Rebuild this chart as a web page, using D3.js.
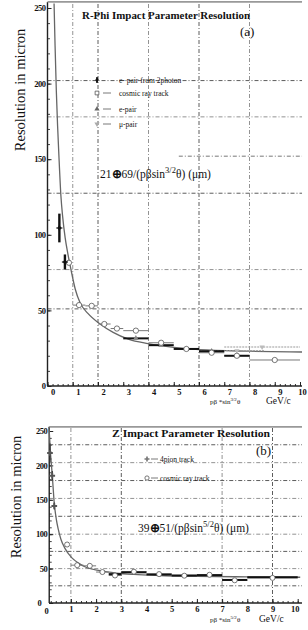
<!DOCTYPE html>
<html><head><meta charset="utf-8">
<script src="https://cdn.jsdelivr.net/npm/d3@7"></script>
<style>body{margin:0;background:#fff} svg{display:block} text{font-family:"Liberation Serif","Times New Roman",serif;fill:#111}</style>
</head><body><svg id="c" width="308" height="630"></svg>
<script>
// ---------- Panel (a): R-Phi ----------
const xTicks = [0,1,2,3,4,5,6,7,8,9,10];
const yTicks = [0,50,100,150,200,250];
const curveAx = [0.26,0.3,0.35,0.4,0.45,0.53,0.6,0.7,0.8,0.93,1.1,1.29,1.6,2.08,2.6,3.2,3.98,5,6,8,10.08];
const curveAy = [253,225,195,172,153,126,112,98,88,77,64,55,48,41,35.5,31,28,25.5,24,23,22.5];
const photonX = [0.47,0.69], photonY = [104.5,82], photonLo = [95,77], photonHi = [114,87];
const cosmicAx = [0.85,1.25,1.75,2.25,2.75,3.5,4.5,5.5,6.5,7.5,9.0];
const cosmicAy = [81.5,53.5,53,41,38,36.6,28.6,24.5,22,20,17.2];
const cosmicAlo = [0.85,1,1.5,2,2.5,3,4,5,6,7,8];
const cosmicAhi = [0.85,1.5,2,2.5,3,4,5,6,7,8,10];
const epairX = [3.5,4.5,5.5,6.5,7.5], epairY = [31.5,27,24.5,23,20];
const epairLo = [3,4,5,6,7], epairHi = [4,5,6,7,8];
const mupairX = [7.5,8.5], mupairY = [23.3,25.8], mupairLo = [6,7], mupairHi = [8.6,10];
const legendA = ["e- pair from 2photon","cosmic ray track","e-pair","\u03bc-pair"];
const gridAx = [1,2,4,6,8], gridAy = [51,77,127.5,178,202];

// ---------- Panel (b): Z ----------
const yGridB = [25,50,75,100,126,152,178,204,230];
const gridBx = [1,3,7,9];
const curveBx = [0.13,0.19,0.26,0.34,0.42,0.5,0.6,0.77,1.03,1.3,1.6,2.15,2.8,3.5,4.5,6,8,10.1];
const curveBy = [256,218,186,145,122,107,93,79,66,58,52,47,43.5,41.5,40,38.8,38,37.4];
const pionX = [0.17,0.26,0.34], pionY = [218,185,141], pionLo = [205,178,136], pionHi = [232,192,146];
const pionBinX = [2.75,3.5,4.5,5.5,6.5,7.5,9], pionBinY = [42,44.6,41.5,40,40.5,33.5,37.5];
const pionBinLo = [2.5,3,4,5,6,7,8], pionBinHi = [3,4,5,6,7,8,10];
const cosmicBx = [0.85,1.25,1.75,2.25,2.75,3.5,4.5,5.5,6.5,7.5,9];
const cosmicBy = [85,55,54,45,40,45.5,42,39.7,41,33,36.5];
const cosmicBlo = [0.85,1,1.5,2,2.5,3,4,5,6,7,8];
const cosmicBhi = [0.85,1.5,2,2.5,3,4,5,6,7,8,10];
const legendB = ["4pion track","cosmic ray track"];

const svg = d3.select('#c');

const xA = d3.scaleLinear().domain([0,10]).range([47.5,300]);
const yA = d3.scaleLinear().domain([0,250]).range([386,8]);
const xB = d3.scaleLinear().domain([0,10]).range([45.7,297.7]);
const yB = d3.scaleLinear().domain([0,250]).range([603,431]);

function grids(g, x, y, xs, ys, x0, x1, y0, y1){
  g.selectAll(null).data(ys).enter().append('line')
    .attr('x1', x(x0)).attr('x2', x(x1)).attr('y1', d=>y(d)).attr('y2', d=>y(d))
    .attr('stroke', (d,i)=> i%2 ? '#777' : '#333').attr('stroke-width',0.8)
    .attr('stroke-dasharray','4,2,1,2');
  g.selectAll(null).data(xs).enter().append('line')
    .attr('y1', y(y0)).attr('y2', y(y1)).attr('x1', d=>x(d)).attr('x2', d=>x(d))
    .attr('stroke', (d,i)=> i%2 ? '#333' : '#777').attr('stroke-width',0.8)
    .attr('stroke-dasharray','4,2,1,2');
}

function axes(g, x, y, xmin, xmax, ymax, labelDx, zeroDx){
  const xMinor = d3.range(0, 10.01, 0.2).filter(v=>v>=xmin);
  const yMinor = d3.range(0, 251, 10);
  g.append('g').attr('transform',`translate(0,${y(0)})`)
    .call(d3.axisBottom(x).tickValues(xMinor).tickSize(-2).tickFormat(''))
    .call(s=>{s.select('.domain').remove(); s.selectAll('line').attr('stroke','#333');});
  g.append('g').attr('transform',`translate(0,${y(0)})`)
    .call(d3.axisBottom(x).tickValues(xTicks.filter(v=>v>=xmin)).tickSize(-4).tickPadding(3).tickFormat(d3.format('d')))
    .call(s=>{s.select('.domain').remove(); s.selectAll('line').attr('stroke','#222');
      s.selectAll('text').attr('dx',d=> d===10 ? labelDx-3 : labelDx).style('font-family','"Liberation Serif",serif')
       .style('font-size','8.5px').style('font-weight','bold').attr('fill','#111');});
  g.append('g').attr('transform',`translate(0,${y(0)})`)
    .call(d3.axisLeft(y).tickValues(yMinor).tickSize(0).tickFormat(''))
    .call(s=>{s.select('.domain').remove();});
  g.append('g').attr('transform',`translate(${x(xmin)},0)`)
    .call(d3.axisLeft(y).tickValues(yMinor).tickSize(-2.5).tickFormat(''))
    .call(s=>{s.select('.domain').remove(); s.selectAll('line').attr('stroke','#444');});
  g.append('g').attr('transform',`translate(${x(xmin)},0)`)
    .call(d3.axisLeft(y).tickValues(yTicks).tickSize(-4).tickPadding(2))
    .call(s=>{s.select('.domain').remove(); s.selectAll('line').attr('stroke','#222');
      s.selectAll('text').attr('dx',d=> d===0 ? zeroDx : 0).style('font-family','"Liberation Serif",serif')
       .style('font-size','8.5px').style('font-weight','bold').attr('fill','#111').attr('letter-spacing','-0.5');});
  g.append('line').attr('x1',x(xmin)).attr('x2',x(xmax)).attr('y1',y(0)).attr('y2',y(0))
    .attr('stroke','#222').attr('stroke-width',1.4);
  g.append('line').attr('x1',x(xmin)).attr('x2',x(xmin)).attr('y1',y(0)).attr('y2',y(ymax))
    .attr('stroke','#222').attr('stroke-width',1.4);
  g.append('line').attr('x1',x(xmin)).attr('x2',x(xmax)).attr('y1',y(ymax)).attr('y2',y(ymax))
    .attr('stroke','#999').attr('stroke-width',1.8);
}

function hbars(g, x, y, xs, ys, lo, hi, color, w, dash){
  g.selectAll(null).data(xs).enter().append('line')
    .attr('x1',(d,i)=>x(lo[i])).attr('x2',(d,i)=>x(hi[i]))
    .attr('y1',(d,i)=>y(ys[i])).attr('y2',(d,i)=>y(ys[i]))
    .attr('stroke',color).attr('stroke-width',w).attr('stroke-dasharray',dash||null);
}
function vbars(g, x, y, xs, lo, hi, color, w){
  g.selectAll(null).data(xs).enter().append('line')
    .attr('x1',d=>x(d)).attr('x2',d=>x(d))
    .attr('y1',(d,i)=>y(lo[i])).attr('y2',(d,i)=>y(hi[i]))
    .attr('stroke',color).attr('stroke-width',w);
}
function markers(g, x, y, xs, ys, type, size, fill, stroke, rot){
  g.selectAll(null).data(xs).enter().append('path')
    .attr('d', d3.symbol().type(type).size(size))
    .attr('transform',(d,i)=>`translate(${x(d)},${y(ys[i])}) rotate(${rot||0})`)
    .attr('fill',fill).attr('stroke',stroke).attr('stroke-width',0.8);
}

// ===== Panel A =====
const gA = svg.append('g');
grids(gA, xA, yA, gridAx, gridAy, 0, 10.08, 0, 254);
gA.append('line').attr('x1',xA(5.2)).attr('x2',xA(10.08)).attr('y1',yA(152)).attr('y2',yA(152))
  .attr('stroke','#555').attr('stroke-width',0.8).attr('stroke-dasharray','4,2,1,2');
axes(gA, xA, yA, 0, 10.08, 254, 5, 0);

gA.append('path').datum(d3.zip(curveAx, curveAy))
  .attr('d', d3.line().x(d=>xA(d[0])).y(d=>yA(d[1])).curve(d3.curveMonotoneX))
  .attr('fill','none').attr('stroke','#666').attr('stroke-width',1.3);

hbars(gA, xA, yA, mupairX, mupairY, mupairLo, mupairHi, '#999', 1.2, '2,1');
hbars(gA, xA, yA, cosmicAx, cosmicAy, cosmicAlo, cosmicAhi, '#777', 1);
hbars(gA, xA, yA, epairX, epairY, epairLo, epairHi, '#111', 2);
markers(gA, xA, yA, epairX, epairY, d3.symbolTriangle, 14, '#888', 'none');
markers(gA, xA, yA, mupairX, mupairY, d3.symbolTriangle, 12, '#bbb', 'none', 180);
markers(gA, xA, yA, cosmicAx, cosmicAy, d3.symbolCircle, 22, '#fff', '#555');
vbars(gA, xA, yA, photonX, photonLo, photonHi, '#111', 2.4);
hbars(gA, xA, yA, photonX, photonY, photonX.map(v=>v-0.12), photonX.map(v=>v+0.12), '#111', 1.2);
markers(gA, xA, yA, photonX, photonY, d3.symbolDiamond, 12, '#111', 'none');

gA.append('text').attr('x',82).attr('y',19).attr('textLength',168).attr('lengthAdjust','spacingAndGlyphs')
  .style('font-size','10px').style('font-weight','bold').text('R-Phi Impact Parameter Resolution');
gA.append('text').attr('x',240).attr('y',36).style('font-size','13px').text('(a)');
const legYA = [80,93,109,124];
legendA.forEach((t,i)=>{
  gA.append('text').attr('x',119).attr('y',legYA[i]+2.5).style('font-size','7.5px').text(t);
  if(i>0) gA.append('line').attr('x1',103).attr('x2',111).attr('y1',legYA[i]).attr('y2',legYA[i]).attr('stroke','#555').attr('stroke-width',0.8);
});
gA.append('line').attr('x1',97).attr('x2',97).attr('y1',77).attr('y2',83).attr('stroke','#111').attr('stroke-width',1.4);
gA.append('path').attr('d',d3.symbol().type(d3.symbolDiamond).size(10)).attr('transform','translate(97,80)').attr('fill','#111');
gA.append('path').attr('d',d3.symbol().type(d3.symbolSquare).size(14)).attr('transform','translate(97,93)').attr('fill','#fff').attr('stroke','#555').attr('stroke-width',0.8);
gA.append('path').attr('d',d3.symbol().type(d3.symbolTriangle).size(12)).attr('transform','translate(97,109)').attr('fill','#666');
gA.append('path').attr('d',d3.symbol().type(d3.symbolTriangle).size(12)).attr('transform','translate(97,124) rotate(180)').attr('fill','#aaa');

const fA = gA.append('text').attr('x',100).attr('y',178).style('font-size','11.5px');
fA.append('tspan').text('21');
fA.append('tspan').style('font-weight','bold').text('\u2295');
fA.append('tspan').text('69/(p\u03b2sin');
fA.append('tspan').attr('dy',-5).style('font-size','8.5px').text('3/2');
fA.append('tspan').attr('dy',5).text('\u03b8) (\u03bcm)');

gA.append('text').attr('transform','translate(25,90) rotate(-90)').attr('text-anchor','middle')
  .style('font-size','14.5px').text('Resolution in micron');
const tA = gA.append('text').attr('x',210).attr('y',404).style('font-size','7px');
tA.append('tspan').text('p\u03b2 *sin');
tA.append('tspan').attr('dy',-3).style('font-size','5px').text('3/2');
tA.append('tspan').attr('dy',3).text('\u03b8');
gA.append('text').attr('x',266).attr('y',404).style('font-size','9.5px').text('GeV/c');

// ===== Panel B =====
const gB = svg.append('g');
grids(gB, xB, yB, gridBx, yGridB, 0.14, 10.17, 0, 256);
axes(gB, xB, yB, 0.14, 10.17, 256, 0, -6);
gB.append('text').attr('x',xB(0)+1).attr('y',yB(0)+11).attr('text-anchor','middle')
  .style('font-size','8.5px').style('font-weight','bold').text('0');

gB.append('path').datum(d3.zip(curveBx, curveBy))
  .attr('d', d3.line().x(d=>xB(d[0])).y(d=>yB(d[1])).curve(d3.curveMonotoneX))
  .attr('fill','none').attr('stroke','#666').attr('stroke-width',1.3);

hbars(gB, xB, yB, cosmicBx, cosmicBy, cosmicBlo, cosmicBhi, '#777', 1);
hbars(gB, xB, yB, pionBinX, pionBinY, pionBinLo, pionBinHi, '#111', 2);
vbars(gB, xB, yB, pionX, pionLo, pionHi, '#333', 1.2);
markers(gB, xB, yB, pionX, pionY, d3.symbolCross, 18, '#555', 'none');
markers(gB, xB, yB, cosmicBx, cosmicBy, d3.symbolCircle, 20, '#fff', '#555');

gB.append('text').attr('x',112).attr('y',437).attr('textLength',158).attr('lengthAdjust','spacingAndGlyphs')
  .style('font-size','10px').style('font-weight','bold').text('Z Impact Parameter Resolution');
gB.append('text').attr('x',256).attr('y',455).style('font-size','13px').text('(b)');
const legYB = [459,478];
legendB.forEach((t,i)=>{
  gB.append('text').attr('x',160).attr('y',legYB[i]+2.5).style('font-size','7.5px').text(t);
  gB.append('line').attr('x1',151).attr('x2',158).attr('y1',legYB[i]).attr('y2',legYB[i]).attr('stroke','#555').attr('stroke-width',0.8);
});
gB.append('path').attr('d',d3.symbol().type(d3.symbolCross).size(14)).attr('transform','translate(147,459)').attr('fill','#777');
gB.append('path').attr('d',d3.symbol().type(d3.symbolCircle).size(14)).attr('transform','translate(147,478)').attr('fill','#fff').attr('stroke','#555').attr('stroke-width',0.8);

const fB = gB.append('text').attr('x',138).attr('y',532).style('font-size','11.5px');
fB.append('tspan').text('39');
fB.append('tspan').style('font-weight','bold').text('\u2295');
fB.append('tspan').text('51/(p\u03b2sin');
fB.append('tspan').attr('dy',-5).style('font-size','8.5px').text('5/2');
fB.append('tspan').attr('dy',5).text('\u03b8) (\u03bcm)');

gB.append('text').attr('transform','translate(21,497) rotate(-90)').attr('text-anchor','middle')
  .style('font-size','14.5px').text('Resolution in micron');
const tB = gB.append('text').attr('x',210).attr('y',622).style('font-size','7px');
tB.append('tspan').text('p\u03b2 *sin');
tB.append('tspan').attr('dy',-3).style('font-size','5px').text('5/2');
tB.append('tspan').attr('dy',3).text('\u03b8');
gB.append('text').attr('x',259).attr('y',622).style('font-size','9.5px').text('GeV/c');
</script></body></html>
